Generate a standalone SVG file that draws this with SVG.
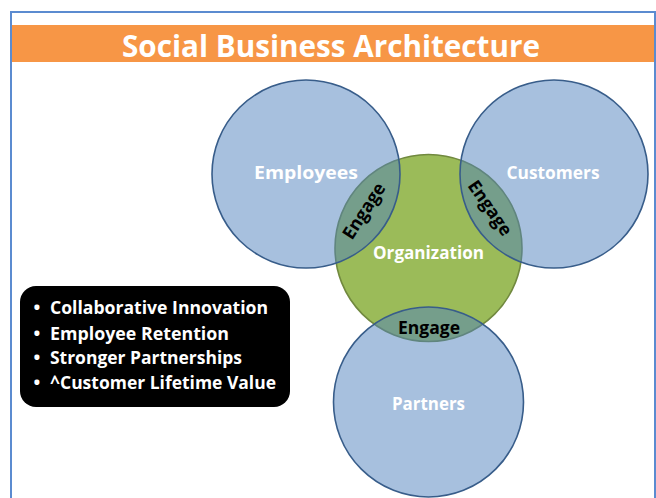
<svg xmlns="http://www.w3.org/2000/svg" width="656" height="498" viewBox="0 0 656 498">
  <style>
    .lbl { font-family: "Open Sans", "Liberation Sans", sans-serif; font-weight: 700; }
    .w { fill: #ffffff; }
    .k { fill: #000000; }
    .blue { fill: #4F81BD; fill-opacity: 0.5; stroke: #385D8A; stroke-width: 1.6; }
    .green { fill: #9BBB59; stroke: #71893F; stroke-width: 1.6; }
  </style>
  <rect x="0" y="0" width="656" height="498" fill="#ffffff"/>
  <g id="frame">
    <rect x="11" y="12" width="644" height="500" fill="#ffffff" stroke="#5B8BD0" stroke-width="2"/>
    <rect x="12" y="25" width="642" height="37" fill="#F79646"/>
    <text class="lbl w" x="331" y="57" font-size="30" text-anchor="middle" textLength="418" lengthAdjust="spacingAndGlyphs">Social Business Architecture</text>
  </g>
  <g id="organization">
    <circle class="green" cx="428.5" cy="248" r="93.5"/>
  </g>
  <g id="employees">
    <circle class="blue" cx="306" cy="174" r="94"/>
  </g>
  <g id="customers">
    <circle class="blue" cx="554" cy="174" r="94"/>
  </g>
  <g id="partners">
    <circle class="blue" cx="428.5" cy="402" r="95"/>
  </g>
  <g id="labels">
    <text class="lbl w" x="306" y="179" font-size="18" text-anchor="middle" textLength="104" lengthAdjust="spacingAndGlyphs">Employees</text>
    <text class="lbl w" x="553" y="179" font-size="18" text-anchor="middle" textLength="93" lengthAdjust="spacingAndGlyphs">Customers</text>
    <text class="lbl w" x="428.5" y="259" font-size="18" text-anchor="middle" textLength="111" lengthAdjust="spacingAndGlyphs">Organization</text>
    <text class="lbl w" x="428.5" y="410" font-size="18" text-anchor="middle" textLength="73" lengthAdjust="spacingAndGlyphs">Partners</text>
  </g>
  <g id="engage">
    <text class="lbl k" x="0" y="6" font-size="18" text-anchor="middle" textLength="63" lengthAdjust="spacingAndGlyphs" transform="translate(364,211) rotate(-57)">Engage</text>
    <text class="lbl k" x="0" y="6" font-size="18" text-anchor="middle" textLength="63" lengthAdjust="spacingAndGlyphs" transform="translate(490,208) rotate(55)">Engage</text>
    <text class="lbl k" x="429" y="334" font-size="18" text-anchor="middle" textLength="62" lengthAdjust="spacingAndGlyphs">Engage</text>
  </g>
  <g id="benefits">
    <rect x="20" y="286" width="270" height="121" rx="16" ry="16" fill="#000000"/>
    <g class="lbl w" font-size="18">
      <text x="37" y="314" text-anchor="middle">•</text>
      <text x="50" y="314" textLength="218" lengthAdjust="spacingAndGlyphs">Collaborative Innovation</text>
      <text x="37" y="340" text-anchor="middle">•</text>
      <text x="50" y="340" textLength="179" lengthAdjust="spacingAndGlyphs">Employee Retention</text>
      <text x="37" y="364" text-anchor="middle">•</text>
      <text x="50" y="364" textLength="192" lengthAdjust="spacingAndGlyphs">Stronger Partnerships</text>
      <text x="37" y="389" text-anchor="middle">•</text>
      <text x="50" y="389" textLength="226" lengthAdjust="spacingAndGlyphs">^Customer Lifetime Value</text>
    </g>
  </g>
</svg>
